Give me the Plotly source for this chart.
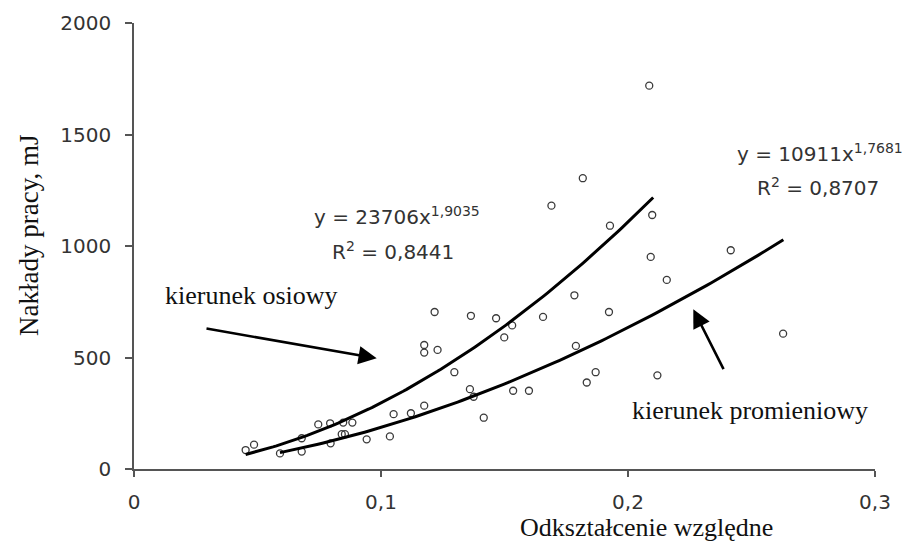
import numpy as np
import plotly.graph_objects as go

# ---------------- data ----------------
strain = [0.0452, 0.0486, 0.0591, 0.0679, 0.0679, 0.0746, 0.0794, 0.0847, 0.0884, 0.0796,
          0.0841, 0.0854, 0.0942, 0.1036, 0.1051, 0.1121, 0.1175, 0.1175, 0.1175, 0.1229,
          0.1217, 0.1297, 0.1364, 0.1360, 0.1375, 0.1416, 0.1466, 0.1531, 0.1499, 0.1535,
          0.1599, 0.1656, 0.1690, 0.1783, 0.1789, 0.1817, 0.1833, 0.1869, 0.1923, 0.1927,
          0.2086, 0.2092, 0.2098, 0.2157, 0.2119, 0.2416, 0.2628]
work = [85, 109, 70, 138, 78, 200, 205, 208, 208, 115,
        156, 156, 133, 146, 246, 250, 284, 556, 522, 534,
        704, 434, 687, 358, 324, 230, 676, 644, 590, 351,
        351, 682, 1181, 779, 552, 1304, 388, 434, 704, 1091,
        1719, 951, 1139, 848, 420, 981, 607]

# power-law trend lines y = a * x^b (coefficients and R^2 shown on the chart)
fit_axial = {"a": 23706, "b": 1.9035, "r2": 0.8441, "x_from": 0.0452, "x_to": 0.2102}
fit_radial = {"a": 10911, "b": 1.7681, "r2": 0.8707, "x_from": 0.0591, "x_to": 0.2629}

x_ticks = [0, 0.1, 0.2, 0.3]
x_tick_labels = ["0", "0,1", "0,2", "0,3"]
y_ticks = [0, 500, 1000, 1500, 2000]
y_tick_labels = ["0", "500", "1000", "1500", "2000"]

x_title = "Odkształcenie względne"
y_title = "Nakłady pracy, mJ"
label_axial = "kierunek osiowy"
label_radial = "kierunek promieniowy"

# ---------------- layout geometry ----------------
W, H = 905, 542
L, R, T, B = 134, 30, 23, 73
X0, X1 = 0.0, 0.3
Y0, Y1 = 0.0, 2000.0


def px2x(px):
    return X0 + (px - L) / (W - L - R) * (X1 - X0)


def py2y(py):
    return Y0 + (H - B - py) / (H - T - B) * (Y1 - Y0)


def px2paper(px):
    return (px - L) / (W - L - R)


def py2paper(py):
    return (H - B - py) / (H - T - B)


def dec(v):
    return f"{v}".replace(".", ",")


fig = go.Figure()

fig.add_trace(go.Scatter(
    x=strain, y=work, mode="markers",
    marker=dict(symbol="circle-open", size=7, color="#3a3a3a", line=dict(width=1.3)),
    showlegend=False, hoverinfo="x+y"))

for fit in (fit_axial, fit_radial):
    xs = np.linspace(fit["x_from"], fit["x_to"], 120)
    ys = fit["a"] * xs ** fit["b"]
    fig.add_trace(go.Scatter(x=xs, y=ys, mode="lines",
                             line=dict(color="black", width=3),
                             showlegend=False, hoverinfo="skip"))

eq_font = dict(family="DejaVu Sans", size=20, color="#333333")
serif_font = dict(family="Liberation Serif", size=26, color="#111111")

annotations = [
    dict(text=f"y = {fit_axial['a']}x<sup>{dec(fit_axial['b'])}</sup>",
         x=px2paper(312), y=py2paper(216), xanchor="left", yanchor="middle", font=eq_font),
    dict(text=f"R<sup>2</sup> = {dec(fit_axial['r2'])}",
         x=px2paper(330), y=py2paper(251), xanchor="left", yanchor="middle", font=eq_font),
    dict(text=f"y = {fit_radial['a']}x<sup>{dec(fit_radial['b'])}</sup>",
         x=px2paper(735), y=py2paper(153), xanchor="left", yanchor="middle", font=eq_font),
    dict(text=f"R<sup>2</sup> = {dec(fit_radial['r2'])}",
         x=px2paper(755), y=py2paper(187), xanchor="left", yanchor="middle", font=eq_font),
    dict(text=label_axial, x=px2paper(163), y=py2paper(295),
         xanchor="left", yanchor="middle", font=serif_font),
    dict(text=label_radial, x=px2paper(630), y=py2paper(410),
         xanchor="left", yanchor="middle", font=serif_font),
    dict(text=x_title, x=px2paper(646), y=py2paper(527),
         xanchor="center", yanchor="middle", font=serif_font),
    dict(text=y_title, x=px2paper(29), y=py2paper(236), textangle=-90,
         xanchor="center", yanchor="middle", font=dict(family="Liberation Serif", size=27, color="#111111")),
]
for a in annotations:
    a.update(xref="paper", yref="paper", showarrow=False)
    fig.add_annotation(**a)

# arrows (head at data position, tail offset in pixels)
fig.add_annotation(x=px2x(376.7), y=py2y(358.3), xref="x", yref="y",
                   ax=205 - 376.7, ay=328.3 - 358.3, text="", showarrow=True,
                   arrowhead=2, arrowsize=1.4, arrowwidth=2.6, arrowcolor="black")
fig.add_annotation(x=px2x(693.3), y=py2y(309.3), xref="x", yref="y",
                   ax=724.3 - 693.3, ay=370.7 - 309.3, text="", showarrow=True,
                   arrowhead=2, arrowsize=1.4, arrowwidth=2.6, arrowcolor="black")

fig.update_layout(
    width=W, height=H,
    margin=dict(l=L, r=R, t=T, b=B, pad=0),
    paper_bgcolor="white", plot_bgcolor="white",
    showlegend=False,
)
fig.update_xaxes(range=[X0, X1], tickvals=x_ticks, ticktext=x_tick_labels,
                 showline=True, linecolor="#555555", linewidth=1.6,
                 ticks="outside", ticklen=6, tickwidth=1.6, tickcolor="#555555",
                 showgrid=False, zeroline=False, ticklabelstandoff=8,
                 tickfont=dict(family="DejaVu Sans", size=20, color="#333333"))
fig.update_yaxes(range=[Y0, Y1], tickvals=y_ticks, ticktext=y_tick_labels,
                 showline=True, linecolor="#555555", linewidth=1.6,
                 ticks="outside", ticklen=7, tickwidth=1.6, tickcolor="#555555",
                 showgrid=False, zeroline=False, ticklabelstandoff=10,
                 tickfont=dict(family="DejaVu Sans", size=20, color="#333333"))

fig.write_html("out.html")
